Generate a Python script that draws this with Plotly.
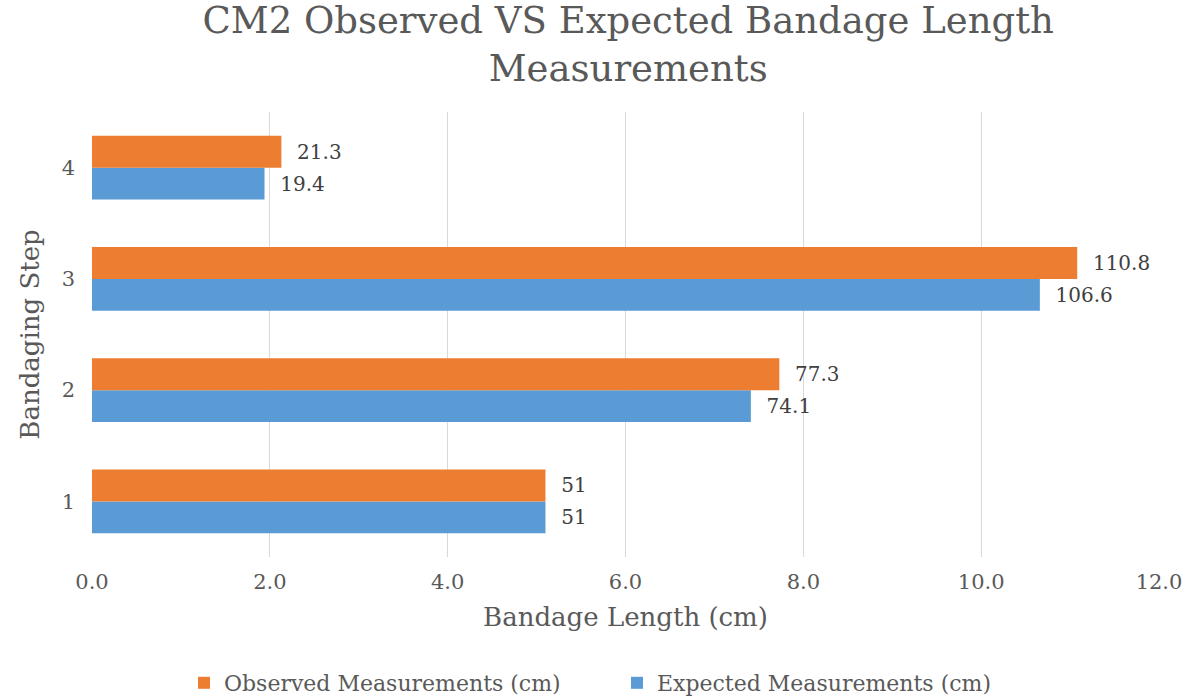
import plotly.graph_objects as go

# Bandaging steps and the two sets of length measurements (cm)
steps = ["1", "2", "3", "4"]
expected = [51, 74.1, 106.6, 19.4]
observed = [51, 77.3, 110.8, 21.3]

# x-axis ticks are shown in tens of cm
tick_vals = [0, 20, 40, 60, 80, 100, 120]
tick_text = ["0.0", "2.0", "4.0", "6.0", "8.0", "10.0", "12.0"]

FONT = "DejaVu Serif, serif"
BLUE = "#5B9BD5"
ORANGE = "#ED7D31"

fig = go.Figure()
fig.add_trace(go.Bar(
    y=steps, x=expected, orientation="h", name="Expected Measurements (cm)",
    marker=dict(color=BLUE, line=dict(width=0)),
    texttemplate="  %{x}", textposition="outside", cliponaxis=False,
    textfont=dict(family=FONT, size=20, color="#404040"),
))
fig.add_trace(go.Bar(
    y=steps, x=observed, orientation="h", name="Observed Measurements (cm)",
    marker=dict(color=ORANGE, line=dict(width=0)),
    texttemplate="  %{x}", textposition="outside", cliponaxis=False,
    textfont=dict(family=FONT, size=20, color="#404040"),
))

fig.update_layout(
    width=1192, height=698,
    paper_bgcolor="white", plot_bgcolor="white",
    barmode="group", bargap=0.425, bargroupgap=0,
    margin=dict(l=92, r=33, t=112, b=141, autoexpand=False),
    font=dict(family=FONT, color="#595959"),
    title=dict(
        text="CM2 Observed VS Expected Bandage Length<br>Measurements",
        x=0.527, xanchor="center", y=0.953, yanchor="top",
        font=dict(family=FONT, size=37, color="#595959"),
    ),
    xaxis=dict(
        range=[0, 120], tickvals=tick_vals, ticktext=tick_text,
        showgrid=True, gridcolor="#d9d9d9", gridwidth=1,
        zeroline=False, showline=False, automargin=False,
        tickfont=dict(family=FONT, size=21, color="#595959"),
        ticklabelstandoff=10,
        title=dict(text="Bandage Length (cm)", standoff=14,
                   font=dict(family=FONT, size=26, color="#595959")),
    ),
    yaxis=dict(
        categoryorder="array", categoryarray=steps,
        showgrid=False, zeroline=False, showline=False, automargin=False,
        tickfont=dict(family=FONT, size=21, color="#595959"),
        ticklabelstandoff=16,
        title=dict(text="Bandaging Step", standoff=14,
                   font=dict(family=FONT, size=26, color="#595959")),
    ),
    legend=dict(
        orientation="h", traceorder="reversed",
        x=0.0862, xanchor="left", yref="container", y=0.0215, yanchor="middle",
        entrywidth=388, entrywidthmode="pixels", itemwidth=30,
        font=dict(family=FONT, size=22, color="#595959"),
    ),
)

fig.write_html("out.html")
